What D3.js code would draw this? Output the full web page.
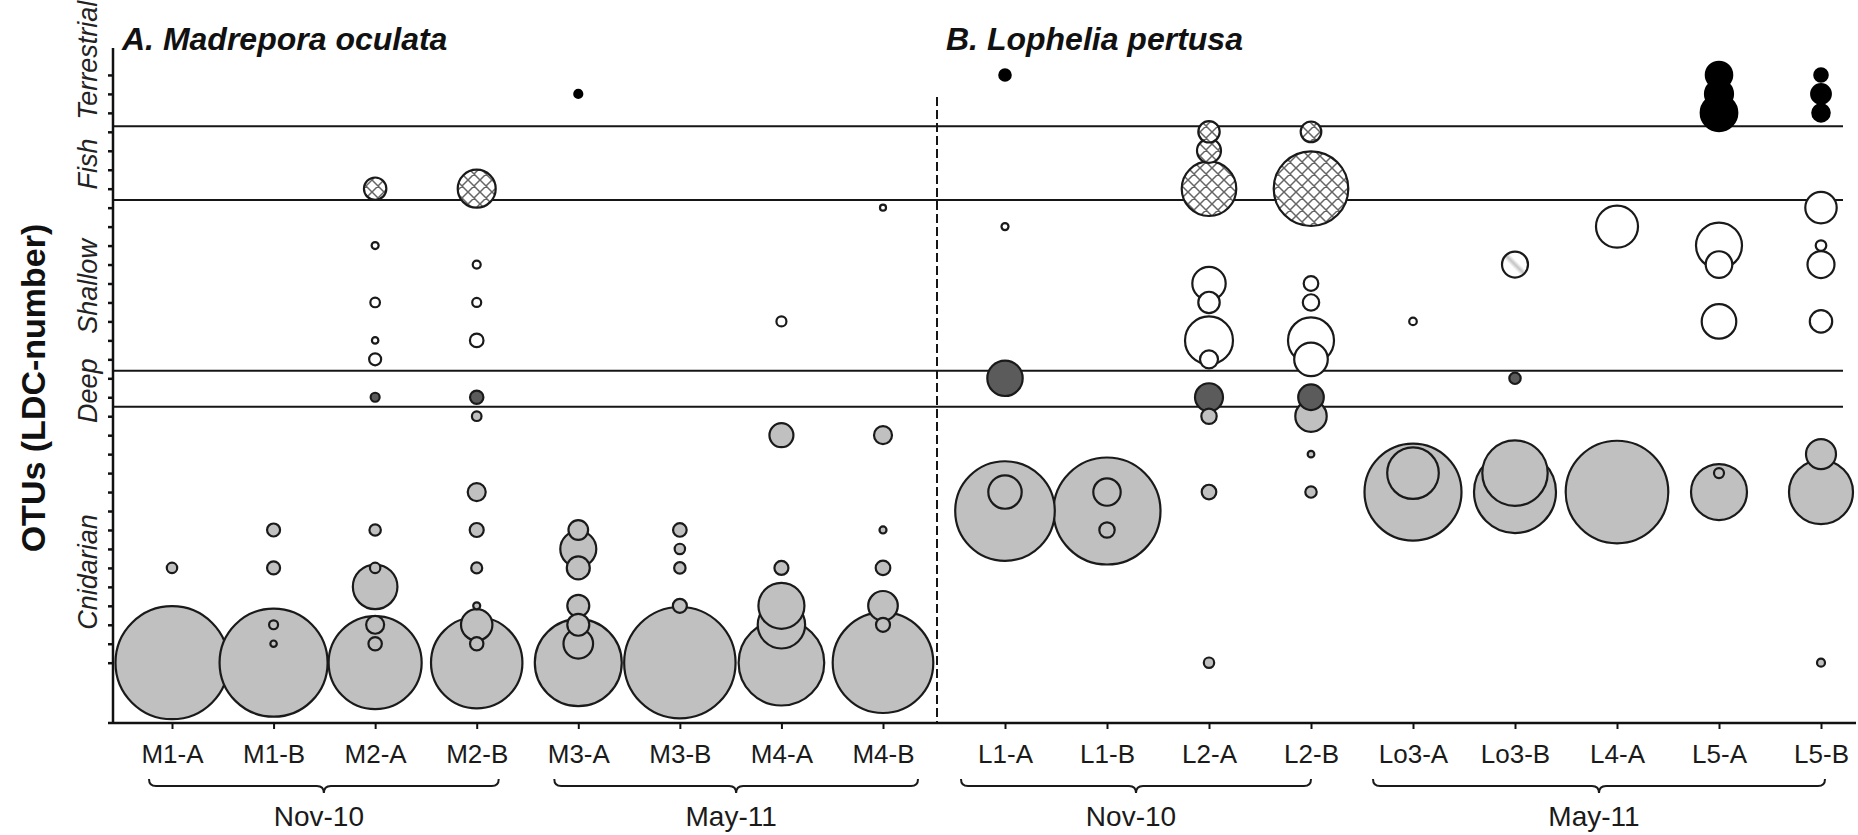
<!DOCTYPE html>
<html>
<head>
<meta charset="utf-8">
<script src="https://cdn.jsdelivr.net/npm/d3@7"></script>
<style>
  body { margin: 0; background: #fff; }
  svg { display: block; font-family: "Liberation Sans", Arial, sans-serif; }
</style>
</head>
<body>
<div id="chart"></div>
<script>
// Sample codes for the two coral species
var samplesA = ["M1-A", "M1-B", "M2-A", "M2-B", "M3-A", "M3-B", "M4-A", "M4-B"];
var samplesB = ["L1-A", "L1-B", "L2-A", "L2-B", "Lo3-A", "Lo3-B", "L4-A", "L5-A", "L5-B"];

// Sampling campaigns: [label, first sample, last sample]
var campaigns = [
  ["Nov-10", "M1-A", "M2-B"],
  ["May-11", "M3-A", "M4-B"],
  ["Nov-10", "L1-A", "L2-B"],
  ["May-11", "Lo3-A", "L5-B"]
];

// OTU habitat bands (bottom to top) and the OTU values that separate them
var habitats = ["Cnidarian", "Deep", "Shallow", "Fish", "Terrestrial"];
var habitatBreaks = [14.5, 16.4, 25.4, 29.3];
var otuTicks = d3.range(1, 33);

// Observations: [sample, OTU (LDC-number), relative abundance %]
var cnidarian = [
  ["M1-A", 1, 98.3], ["M1-A", 6, 0.83],
  ["M1-B", 1, 89.8], ["M1-B", 8, 1.30], ["M1-B", 6, 1.30], ["M1-B", 3, 0.62], ["M1-B", 2, 0.32],
  ["M2-A", 1, 66.6], ["M2-A", 8, 1.0], ["M2-A", 5, 15.3], ["M2-A", 6, 0.83], ["M2-A", 3, 2.49], ["M2-A", 2, 1.38],
  ["M2-B", 1, 64.3], ["M2-B", 10, 2.49], ["M2-B", 8, 1.51], ["M2-B", 6, 0.93], ["M2-B", 4, 0.38],
  ["M2-B", 3, 7.59], ["M2-B", 2, 1.38], ["M2-B", 14, 0.71],
  ["M3-A", 1, 58.2], ["M3-A", 8, 2.96], ["M3-A", 7, 9.97], ["M3-A", 6, 4.07], ["M3-A", 4, 3.72],
  ["M3-A", 3, 3.72], ["M3-A", 2, 6.74],
  ["M3-B", 1, 95.5], ["M3-B", 8, 1.42], ["M3-B", 7, 0.83], ["M3-B", 6, 1.0], ["M3-B", 4, 1.51],
  ["M4-A", 1, 56.4], ["M4-A", 13, 4.43], ["M4-A", 6, 1.51], ["M4-A", 4, 16.3], ["M4-A", 3, 17.3],
  ["M4-B", 1, 77.9], ["M4-B", 13, 2.49], ["M4-B", 8, 0.38], ["M4-B", 6, 1.64], ["M4-B", 4, 6.74], ["M4-B", 3, 1.51],
  ["L1-A", 9, 76.3], ["L1-A", 10, 8.58],
  ["L1-B", 9, 88.1], ["L1-B", 10, 5.78], ["L1-B", 8, 1.82],
  ["L2-A", 14, 1.82], ["L2-A", 10, 1.64], ["L2-A", 1, 0.83],
  ["L2-B", 14, 7.59], ["L2-B", 12, 0.34], ["L2-B", 10, 1.0],
  ["Lo3-A", 10, 72.4], ["Lo3-A", 11, 20.5],
  ["Lo3-B", 10, 51.7], ["Lo3-B", 11, 32.9],
  ["L4-A", 10, 81.0],
  ["L5-A", 10, 24.1], ["L5-A", 11, 0.77],
  ["L5-B", 12, 6.93], ["L5-B", 10, 31.5], ["L5-B", 1, 0.49]
];

var deep = [
  ["M2-A", 15, 0.62], ["M2-B", 15, 1.38], ["L1-A", 16, 9.64],
  ["L2-A", 15, 6.03], ["L2-B", 15, 5.04], ["Lo3-B", 16, 1.0]
];

var shallow = [
  ["M2-A", 23, 0.38], ["M2-A", 20, 0.71], ["M2-A", 18, 0.32], ["M2-A", 17, 1.11],
  ["M2-B", 22, 0.49], ["M2-B", 20, 0.62], ["M2-B", 18, 1.42],
  ["M4-A", 19, 0.77], ["M4-B", 25, 0.28], ["L1-A", 24, 0.38],
  ["L2-A", 21, 8.58], ["L2-A", 20, 3.52], ["L2-A", 18, 17.7], ["L2-A", 17, 2.49],
  ["L2-B", 21, 1.64], ["L2-B", 20, 2.07], ["L2-B", 18, 16.3], ["L2-B", 17, 8.69],
  ["Lo3-A", 19, 0.44], ["L4-A", 24, 13.6],
  ["L5-A", 23, 16.3], ["L5-A", 22, 5.44], ["L5-A", 19, 9.21],
  ["L5-B", 25, 7.59], ["L5-B", 23, 0.86], ["L5-B", 22, 5.61], ["L5-B", 19, 3.86]
];

// shallow OTU only partly assigned
var shallowPartial = [["Lo3-B", 22, 5.2]];

var fish = [
  ["M2-A", 26, 3.86], ["M2-B", 26, 11.1],
  ["L2-A", 29, 3.52], ["L2-A", 28, 4.43], ["L2-A", 26, 22.9],
  ["L2-B", 29, 3.27], ["L2-B", 26, 42.8]
];

var terrestrial = [
  ["M3-A", 31, 0.49], ["L1-A", 32, 1.0],
  ["L5-A", 32, 5.36], ["L5-A", 31, 6.03], ["L5-A", 30, 10.3],
  ["L5-B", 32, 1.38], ["L5-B", 31, 2.96], ["L5-B", 30, 2.33]
];

// ---------------------------------------------------------------
var svgWidth = 1858;
var svgHeight = 835;

var axisX = 113;      // left axis position
var axisBottom = 723; // bottom axis position
var axisTop = 48;

var svg = d3.select("#chart")
  .append("svg")
  .attr("width", svgWidth)
  .attr("height", svgHeight);

var defs = svg.append("defs");

// cross hatch for fish OTUs
var hatch = defs.append("pattern")
  .attr("id", "crosshatch")
  .attr("patternUnits", "userSpaceOnUse")
  .attr("width", 12)
  .attr("height", 12);
hatch.append("rect").attr("width", 12).attr("height", 12).attr("fill", "#fff");
hatch.append("path")
  .attr("d", "M0,0L12,12M12,0L0,12M-3,9L3,15M9,-3L15,3M-3,3L3,-3M9,15L15,9")
  .attr("stroke", "#666")
  .attr("stroke-width", 1.5);

// light diagonal streak for the partial shallow OTU
var grad = defs.append("linearGradient")
  .attr("id", "streak")
  .attr("x1", 0).attr("y1", 1).attr("x2", 1).attr("y2", 0);
[[0, "#fff"], [0.4, "#fff"], [0.5, "#c4c4c4"], [0.6, "#fff"], [1, "#fff"]].forEach(function(s) {
  grad.append("stop").attr("offset", s[0]).attr("stop-color", s[1]);
});

// scales
var xA = d3.scalePoint().domain(samplesA).range([172, 883]);
var xB = d3.scalePoint().domain(samplesB).range([1005, 1821]);
function xPos(s) {
  return samplesA.indexOf(s) >= 0 ? xA(s) : xB(s);
}

var yScale = d3.scaleLinear()
  .domain([1, 32])
  .range([662.7, 662.7 - 31 * 18.96]);

var rScale = d3.scaleSqrt().domain([0, 100]).range([0, 57]);

var fills = {
  Cnidarian: "#c0c0c0",
  Deep: "#5b5b5b",
  Shallow: "#ffffff",
  ShallowPartial: "url(#streak)",
  Fish: "url(#crosshatch)",
  Terrestrial: "#000000"
};

// habitat separators
svg.append("g")
  .selectAll("line")
  .data(habitatBreaks)
  .enter()
  .append("line")
  .attr("x1", axisX)
  .attr("x2", 1843)
  .attr("y1", d => yScale(d))
  .attr("y2", d => yScale(d))
  .attr("stroke", "#161616")
  .attr("stroke-width", 2);

// dashed divider between species
svg.append("line")
  .attr("x1", 937).attr("x2", 937)
  .attr("y1", 97).attr("y2", axisBottom)
  .attr("stroke", "#161616")
  .attr("stroke-width", 2)
  .attr("stroke-dasharray", "9,4");

// bubbles, biggest first so the small ones stay visible
var points = [];
function addSeries(rows, type) {
  rows.forEach(function(d) {
    points.push({ sample: d[0], otu: d[1], value: d[2], type: type });
  });
}
addSeries(cnidarian, "Cnidarian");
addSeries(deep, "Deep");
addSeries(shallow, "Shallow");
addSeries(shallowPartial, "ShallowPartial");
addSeries(fish, "Fish");
addSeries(terrestrial, "Terrestrial");
points.sort((a, b) => b.value - a.value);

svg.append("g")
  .selectAll("circle")
  .data(points)
  .enter()
  .append("circle")
  .attr("cx", d => xPos(d.sample))
  .attr("cy", d => yScale(d.otu))
  .attr("r", d => rScale(d.value))
  .attr("fill", d => fills[d.type])
  .attr("stroke", d => d.type == "Terrestrial" ? "#000" : "#1a1a1a")
  .attr("stroke-width", 2.2);

// left axis
var leftAxis = d3.axisLeft(yScale)
  .tickValues(otuTicks)
  .tickSize(5)
  .tickFormat("");
var yAxisG = svg.append("g")
  .attr("transform", `translate(${axisX}, 0)`)
  .call(leftAxis);
yAxisG.select(".domain").remove();
yAxisG.selectAll(".tick line").attr("stroke", "#111").attr("stroke-width", 2.5);

svg.append("line")
  .attr("x1", axisX).attr("x2", axisX)
  .attr("y1", axisTop).attr("y2", axisBottom)
  .attr("stroke", "#111")
  .attr("stroke-width", 2.5);

// bottom axis
svg.append("line")
  .attr("x1", 108).attr("x2", 1856)
  .attr("y1", axisBottom).attr("y2", axisBottom)
  .attr("stroke", "#111")
  .attr("stroke-width", 2.5);

[xA, xB].forEach(function(sc) {
  var g = svg.append("g")
    .attr("transform", `translate(0, ${axisBottom})`)
    .call(d3.axisBottom(sc).tickSize(6).tickPadding(16));
  g.select(".domain").remove();
  g.selectAll(".tick line").attr("stroke", "#111").attr("stroke-width", 2);
  g.selectAll(".tick text")
    .attr("font-family", "Liberation Sans, Arial, sans-serif")
    .attr("font-size", "26px")
    .attr("fill", "#1a1a1a");
});

// campaign braces
var bracePad = [[23, 22], [24, 35], [44, 0], [40, 4]];
var braceTop = 779, braceMid = 786, braceTip = 793;
campaigns.forEach(function(c, i) {
  var x0 = xPos(c[1]) - bracePad[i][0];
  var x1 = xPos(c[2]) + bracePad[i][1];
  var xm = (x0 + x1) / 2;
  var p = d3.path();
  p.moveTo(x0, braceTop);
  p.quadraticCurveTo(x0, braceMid, x0 + 7, braceMid);
  p.lineTo(xm - 7, braceMid);
  p.quadraticCurveTo(xm, braceMid, xm, braceTip);
  p.quadraticCurveTo(xm, braceMid, xm + 7, braceMid);
  p.lineTo(x1 - 7, braceMid);
  p.quadraticCurveTo(x1, braceMid, x1, braceTop);
  svg.append("path")
    .attr("d", p.toString())
    .attr("fill", "none")
    .attr("stroke", "#1a1a1a")
    .attr("stroke-width", 2);
  svg.append("text")
    .attr("x", xm - 5)
    .attr("y", 826)
    .attr("text-anchor", "middle")
    .attr("font-size", "28px")
    .attr("fill", "#1a1a1a")
    .text(c[0]);
});

// habitat labels along the left axis
var bandEdges = [yScale.domain()[0] - 3.2].concat(habitatBreaks, [33.4]);
var labelShift = [7, 2, 1, 1, -27];
habitats.forEach(function(h, i) {
  var cy = (yScale(bandEdges[i]) + yScale(bandEdges[i + 1])) / 2 + labelShift[i];
  svg.append("text")
    .attr("transform", `translate(97, ${cy}) rotate(-90)`)
    .attr("text-anchor", "middle")
    .attr("font-size", "27px")
    .attr("font-style", "italic")
    .attr("fill", "#222")
    .text(h);
});

// axis title
svg.append("text")
  .attr("transform", "translate(45, 388) rotate(-90)")
  .attr("text-anchor", "middle")
  .attr("font-size", "34px")
  .attr("font-weight", "bold")
  .attr("fill", "#111")
  .text("OTUs (LDC-number)");

// panel titles
svg.append("text")
  .attr("x", 122).attr("y", 50)
  .attr("font-size", "32px")
  .attr("font-weight", "bold")
  .attr("font-style", "italic")
  .attr("fill", "#111")
  .text("A. Madrepora oculata");

svg.append("text")
  .attr("x", 946).attr("y", 50)
  .attr("font-size", "32px")
  .attr("font-weight", "bold")
  .attr("font-style", "italic")
  .attr("fill", "#111")
  .text("B. Lophelia pertusa");
</script>
</body>
</html>
